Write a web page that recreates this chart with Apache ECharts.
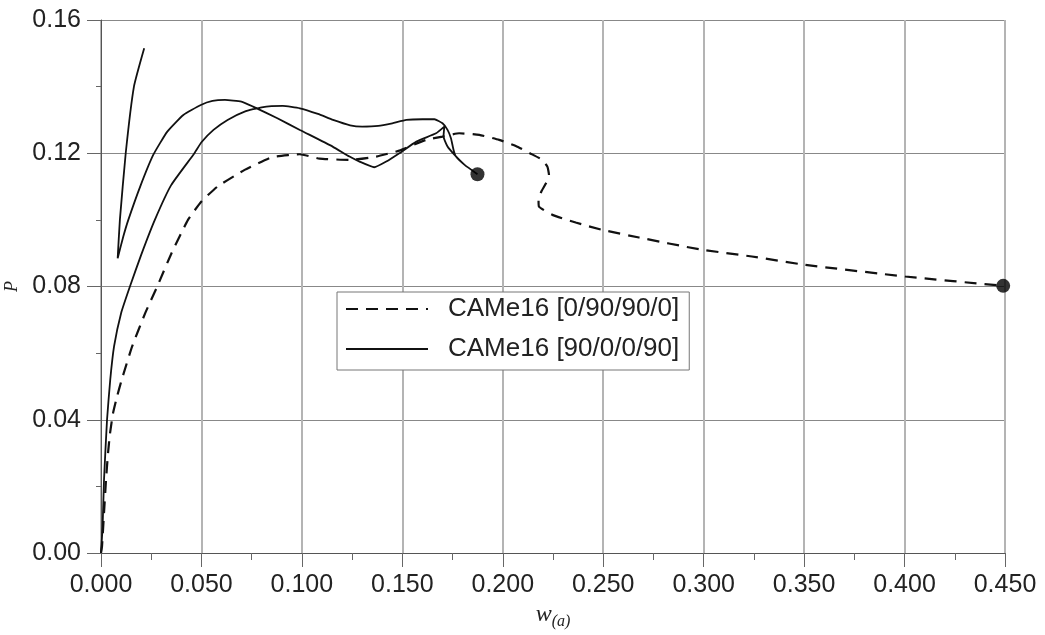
<!DOCTYPE html>
<html>
<head>
<meta charset="utf-8">
<script src="https://cdn.jsdelivr.net/npm/echarts@6/dist/echarts.min.js"></script>
<style>
html,body{margin:0;padding:0;background:#fff;}
#chart{width:1045px;height:635px;}
</style>
</head>
<body>
<div id="chart"></div>
<script>
// ---- data ----
const seriesNames = ['CAMe16 [0/90/90/0]', 'CAMe16 [90/0/0/90]'];

// dashed curve: CAMe16 [0/90/90/0]
const dashedW = [0, 0.0005, 0.0015, 0.0025, 0.0035, 0.0045, 0.006, 0.008, 0.0103, 0.0155, 0.022, 0.028, 0.0351, 0.0433, 0.050, 0.058, 0.0715, 0.085, 0.094, 0.0989, 0.1088, 0.1237, 0.137, 0.1485, 0.1618, 0.170, 0.1783, 0.1883, 0.1982, 0.2065, 0.2135, 0.2197, 0.2222, 0.223, 0.2215, 0.2192, 0.2178, 0.2180, 0.2247, 0.2363, 0.2495, 0.2678, 0.2976, 0.324, 0.3506, 0.4003, 0.4491];
const dashedP = [0, 0.002, 0.012, 0.022, 0.030, 0.036, 0.042, 0.047, 0.052, 0.062, 0.072, 0.080, 0.090, 0.100, 0.1055, 0.110, 0.115, 0.1188, 0.1195, 0.1197, 0.1184, 0.1180, 0.1190, 0.1208, 0.1240, 0.1250, 0.1260, 0.1255, 0.1240, 0.1222, 0.1200, 0.1180, 0.1160, 0.1135, 0.1110, 0.1085, 0.1060, 0.1040, 0.1015, 0.0992, 0.0970, 0.0947, 0.0912, 0.0890, 0.0865, 0.0830, 0.0802];

// solid curve: CAMe16 [90/0/0/90] (path with snap-back)
const solidW = [0, 0.0008, 0.0015, 0.003, 0.0046, 0.0065, 0.010, 0.0144, 0.020, 0.0268, 0.035, 0.0465, 0.050, 0.056, 0.063, 0.0715, 0.080, 0.0905, 0.099, 0.108, 0.1155, 0.124, 0.130, 0.138, 0.145, 0.152, 0.160, 0.166, 0.170, 0.1725, 0.1742, 0.1755, 0.1767, 0.181, 0.1874,
  0.181, 0.176, 0.1725, 0.1705, 0.1709, 0.1668, 0.157, 0.1485, 0.142, 0.136, 0.1287, 0.1237, 0.1153, 0.099, 0.0878, 0.0757, 0.0699, 0.0617, 0.0555, 0.0497, 0.041, 0.033, 0.026, 0.0195, 0.0136, 0.0111, 0.0083, 0.0094, 0.0123, 0.0164, 0.0215];
const solidP = [0, 0.008, 0.022, 0.040, 0.052, 0.062, 0.072, 0.080, 0.0895, 0.100, 0.1105, 0.1200, 0.1233, 0.1270, 0.1300, 0.1325, 0.1338, 0.1342, 0.1335, 0.1318, 0.1300, 0.1284, 0.1280, 0.1282, 0.1290, 0.1300, 0.1302, 0.1302, 0.1290, 0.1270, 0.1245, 0.1210, 0.1190, 0.1165, 0.1137,
  0.1165, 0.1195, 0.1220, 0.1250, 0.1280, 0.1260, 0.1235, 0.1200, 0.1175, 0.1158, 0.1175, 0.1190, 0.1220, 0.1270, 0.1305, 0.1340, 0.1355, 0.1360, 0.1357, 0.1345, 0.1315, 0.1265, 0.1195, 0.1100, 0.1000, 0.0950, 0.0885, 0.1000, 0.1200, 0.1400, 0.1515];

// end points (filled dots)
const endW = [0.4491, 0.1874];
const endP = [0.0802, 0.1137];

// axis ticks
const xTicks = [0, 0.05, 0.10, 0.15, 0.20, 0.25, 0.30, 0.35, 0.40, 0.45];
const yTicks = [0, 0.04, 0.08, 0.12, 0.16];

// ---- chart ----
const zip = (a, b) => a.map((v, i) => [v, b[i]]);
const chart = echarts.init(document.getElementById('chart'), null, {renderer: 'canvas'});
const labelFont = 'Liberation Sans, Arial, sans-serif';

chart.setOption({
  animation: false,
  backgroundColor: '#fff',
  grid: {left: 101, right: 40, top: 20, bottom: 82, containLabel: false, outerBoundsMode: 'none'},
  legend: {
    orient: 'vertical',
    left: 337, top: 292,
    data: seriesNames,
    itemWidth: 82, itemHeight: 20, itemGap: 14,
    padding: [4, 10, 8, 8],
    borderColor: '#777', borderWidth: 1,
    backgroundColor: '#fff',
    itemStyle: {opacity: 0},
    textStyle: {fontFamily: labelFont, fontSize: 26, color: '#222', padding: [0, 0, 0, 15]}
  },
  xAxis: {
    type: 'value',
    min: xTicks[0], max: xTicks[xTicks.length - 1], interval: 0.05,
    name: '{w|w}{s|(a)}',
    nameLocation: 'middle', nameGap: 47,
    nameTextStyle: {
      rich: {
        w: {fontFamily: 'Liberation Serif, serif', fontStyle: 'italic', fontSize: 24, color: '#222'},
        s: {fontFamily: 'Liberation Serif, serif', fontStyle: 'italic', fontSize: 16, color: '#222', padding: [14, 0, 0, 0]}
      }
    },
    axisLine: {show: true, onZero: false, lineStyle: {color: '#555', width: 1}},
    axisTick: {show: true, length: 14, lineStyle: {color: '#666'}},
    minorTick: {show: true, splitNumber: 2, length: 7, lineStyle: {color: '#666'}},
    axisLabel: {fontFamily: labelFont, fontSize: 25, color: '#222', margin: 20, formatter: v => v.toFixed(3)},
    splitLine: {show: true, lineStyle: {color: '#b4b4b4', width: 2}}
  },
  yAxis: {
    type: 'value',
    min: yTicks[0], max: yTicks[yTicks.length - 1], interval: 0.04,
    name: 'P',
    nameLocation: 'middle', nameGap: 76, nameRotate: 90,
    nameTextStyle: {fontFamily: 'Liberation Serif, serif', fontStyle: 'italic', fontSize: 18, color: '#222'},
    axisLine: {show: true, onZero: false, lineStyle: {color: '#555', width: 1}},
    axisTick: {show: true, length: 14, lineStyle: {color: '#666'}},
    minorTick: {show: true, splitNumber: 2, length: 5, lineStyle: {color: '#666'}},
    axisLabel: {fontFamily: labelFont, fontSize: 25, color: '#222', margin: 20, formatter: v => v.toFixed(2)},
    splitLine: {show: true, lineStyle: {color: '#888', width: 1}}
  },
  series: [
    {
      name: seriesNames[0], type: 'line', data: zip(dashedW, dashedP),
      symbol: 'none', smooth: 0.15, z: 3,
      lineStyle: {color: '#111', width: 2.2, type: [12, 8]},
      itemStyle: {color: '#111'}
    },
    {
      name: seriesNames[1], type: 'line', data: zip(solidW, solidP),
      symbol: 'none', smooth: 0.15, z: 3,
      lineStyle: {color: '#111', width: 1.8, type: 'solid'},
      itemStyle: {color: '#111'}
    },
    {
      name: 'ends', type: 'scatter', data: zip(endW, endP),
      symbol: 'circle', symbolSize: 14, z: 4,
      itemStyle: {color: '#000'}
    }
  ]
});
</script>
</body>
</html>
